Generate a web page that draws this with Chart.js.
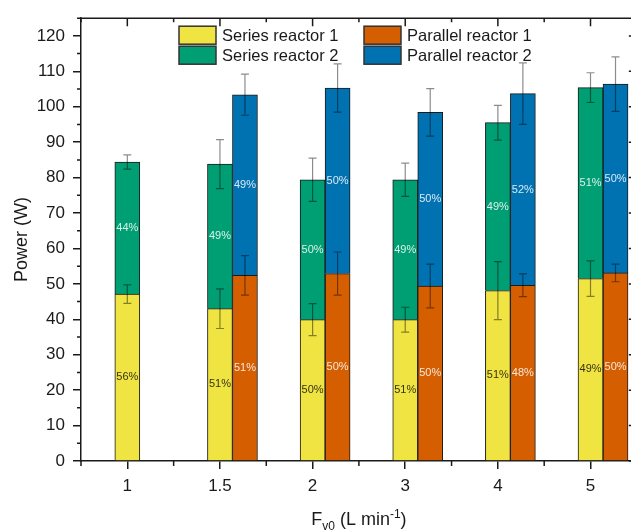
<!DOCTYPE html>
<html lang="en">
<head>
    <meta charset="UTF-8">
    <title>Power per reactor</title>
    <script src="https://cdn.jsdelivr.net/npm/chart.js"></script>
    <style>
        body { margin: 0; background: #fff; }
        canvas { display: block; }
    </style>
</head>
<body>
    <canvas id="powerChart" width="631" height="530"></canvas>
    <script>
        // flow rates (x categories)
        const flowLabels = ['1', '1.5', '2', '3', '4', '5'];

        // power of each reactor segment (W)
        const series1 = [47.1, 43.0, 39.9, 39.9, 48.1, 51.5];
        const series2 = [37.3, 40.8, 39.5, 39.5, 47.4, 53.9];
        const parallel1 = [null, 52.4, 52.9, 49.4, 49.6, 53.1];
        const parallel2 = [null, 51.0, 52.4, 49.0, 54.1, 53.3];

        // error bars (+/-)
        const series1Err = [2.6, 5.6, 4.5, 3.5, 8.2, 5.0];
        const series2Err = [2.0, 6.9, 6.1, 4.7, 4.9, 4.2];
        const parallel1Err = [null, 5.6, 6.1, 6.2, 3.2, 2.5];
        const parallel2Err = [null, 5.8, 6.8, 6.7, 8.7, 7.7];

        // share labels printed inside the bars
        const series1Pct = ['56%', '51%', '50%', '51%', '51%', '49%'];
        const series2Pct = ['44%', '49%', '50%', '49%', '49%', '51%'];
        const parallel1Pct = [null, '51%', '50%', '50%', '48%', '50%'];
        const parallel2Pct = [null, '49%', '50%', '50%', '52%', '50%'];

        const yTickValues = [0, 10, 20, 30, 40, 50, 60, 70, 80, 90, 100, 110, 120];

        const FONT = "'Liberation Sans', Arial, sans-serif";
        const INK = '#1a1a1a';

        const toPoints = vals => vals.map((v, i) => ({ x: i, y: v }));

        // bar labels + error bars
        const barExtras = {
            id: 'barExtras',
            afterDatasetsDraw(chart) {
                const ctx = chart.ctx;
                const y = chart.scales.y;
                ctx.save();
                chart.data.datasets.forEach((ds, i) => {
                    if (!ds.errors) return;
                    chart.getDatasetMeta(i).data.forEach((bar, j) => {
                        if (ds.data[j].y == null) return;
                        // percentage in middle of segment
                        ctx.font = '11px ' + FONT;
                        ctx.textAlign = 'center';
                        ctx.textBaseline = 'middle';
                        ctx.fillStyle = ds.pctColor;
                        ctx.fillText(ds.pct[j], bar.x, (bar.y + bar.base) / 2);
                    });
                });
                ctx.strokeStyle = 'rgba(0,0,0,0.45)';
                ctx.lineWidth = 1.2;
                chart.data.datasets.forEach((ds, i) => {
                    if (!ds.errors) return;
                    chart.getDatasetMeta(i).data.forEach((bar, j) => {
                        const e = ds.errors[j];
                        if (e == null || ds.data[j].y == null) return;
                        const top = y.getValueForPixel(bar.y);
                        const y1 = y.getPixelForValue(top + e);
                        const y2 = y.getPixelForValue(top - e);
                        ctx.beginPath();
                        ctx.moveTo(bar.x, y1); ctx.lineTo(bar.x, y2);
                        ctx.moveTo(bar.x - 4, y1); ctx.lineTo(bar.x + 4, y1);
                        ctx.moveTo(bar.x - 4, y2); ctx.lineTo(bar.x + 4, y2);
                        ctx.stroke();
                    });
                });
                ctx.restore();
            }
        };

        // top/right axes, minor ticks, legend and x title
        const frame = {
            id: 'frame',
            afterDraw(chart) {
                const ctx = chart.ctx;
                const { top, bottom, left } = chart.chartArea;
                const x = chart.scales.x, y = chart.scales.y;
                const rightAxis = x.getPixelForValue(5.5);
                ctx.save();
                ctx.strokeStyle = INK;
                ctx.lineWidth = 1.5;
                ctx.beginPath();
                ctx.moveTo(left, top); ctx.lineTo(rightAxis, top);
                ctx.moveTo(rightAxis, top); ctx.lineTo(rightAxis, bottom);
                // x ticks: top inward, minor below
                for (let i = -0.5; i <= 5.5; i += 0.5) {
                    const px = x.getPixelForValue(i);
                    const major = Number.isInteger(i);
                    ctx.moveTo(px, top); ctx.lineTo(px, top + (major ? 8 : 4));
                    if (!major) { ctx.moveTo(px, bottom); ctx.lineTo(px, bottom + 5); }
                }
                // y ticks: left minor, right inward
                for (let v = 0; v <= 125; v += 5) {
                    const py = y.getPixelForValue(v);
                    const major = v % 10 === 0;
                    if (!major) { ctx.moveTo(left, py); ctx.lineTo(left - 4, py); }
                    ctx.moveTo(rightAxis, py); ctx.lineTo(rightAxis - (major ? 8 : 4), py);
                }
                ctx.stroke();

                // legend, two columns
                const ds = chart.data.datasets;
                const items = [
                    [ds[1], left + 98, top + 8], [ds[3], left + 283, top + 8],
                    [ds[2], left + 98, top + 28], [ds[4], left + 283, top + 28]
                ];
                ctx.font = '16.5px ' + FONT;
                ctx.textBaseline = 'middle';
                ctx.textAlign = 'left';
                items.forEach(([d, bx, by]) => {
                    ctx.fillStyle = d.backgroundColor;
                    ctx.fillRect(bx, by, 37, 18);
                    ctx.strokeStyle = '#333';
                    ctx.lineWidth = 1.5;
                    ctx.strokeRect(bx, by, 37, 18);
                    ctx.fillStyle = INK;
                    ctx.fillText(d.label, bx + 43, by + 10);
                });

                // x axis title with sub/superscript
                const parts = [
                    ['F', 18, 0], ['v0', 12, 5], [' (L min', 18, 0], ['-1', 12, -7], [')', 18, 0]
                ];
                let w = 0;
                parts.forEach(p => { ctx.font = p[1] + 'px ' + FONT; w += ctx.measureText(p[0]).width; });
                let cx = (left + rightAxis) / 2 - w / 2;
                ctx.textBaseline = 'alphabetic';
                ctx.fillStyle = INK;
                parts.forEach(p => {
                    ctx.font = p[1] + 'px ' + FONT;
                    ctx.fillText(p[0], cx, 525 + p[2]);
                    cx += ctx.measureText(p[0]).width;
                });
                ctx.restore();
            }
        };

        const bar = (label, vals, color, errs, pct, pctColor) => ({
            label: label,
            data: toPoints(vals),
            stack: label.startsWith('Series') ? 'series' : 'parallel',
            backgroundColor: color,
            borderColor: INK,
            borderWidth: 1,
            barThickness: 25,
            errors: errs,
            pct: pct,
            pctColor: pctColor
        });

        new Chart(document.getElementById('powerChart'), {
            type: 'bar',
            data: {
                datasets: [
                    // empty stack on the left so the series bar sits on the tick
                    { label: '', data: toPoints(flowLabels.map(() => null)), stack: 'pad', barThickness: 25, backgroundColor: 'rgba(0,0,0,0)', borderWidth: 0 },
                    bar('Series reactor 1', series1, '#F0E442', series1Err, series1Pct, 'rgba(0,0,0,0.8)'),
                    bar('Series reactor 2', series2, '#009E73', series2Err, series2Pct, 'rgba(255,255,255,0.85)'),
                    bar('Parallel reactor 1', parallel1, '#D55E00', parallel1Err, parallel1Pct, 'rgba(255,255,255,0.85)'),
                    bar('Parallel reactor 2', parallel2, '#0072B2', parallel2Err, parallel2Pct, 'rgba(255,255,255,0.85)')
                ]
            },
            options: {
                responsive: false,
                animation: false,
                devicePixelRatio: 1,
                layout: { padding: { top: 14, left: 0, right: 0, bottom: 0 } },
                plugins: {
                    legend: { display: false },
                    tooltip: { enabled: false }
                },
                scales: {
                    x: {
                        type: 'linear',
                        stacked: true,
                        offset: false,
                        min: -0.5,
                        max: 5.437,
                        afterBuildTicks: s => { s.ticks = flowLabels.map((_, i) => ({ value: i })); },
                        afterFit: s => { s.height = 69; },
                        ticks: {
                            callback: v => flowLabels[v],
                            font: { family: FONT, size: 17 },
                            color: INK,
                            padding: 7,
                            maxRotation: 0
                        },
                        grid: { offset: false, drawOnChartArea: false, tickLength: 8, color: INK, lineWidth: 1.5 },
                        border: { color: INK, width: 1.5 }
                    },
                    y: {
                        stacked: true,
                        min: 0,
                        max: 125,
                        afterBuildTicks: s => { s.ticks = yTickValues.map(v => ({ value: v })); },
                        afterFit: s => { s.width = 81; },
                        ticks: {
                            font: { family: FONT, size: 17 },
                            color: INK,
                            padding: 8
                        },
                        grid: { drawOnChartArea: false, tickLength: 8, color: INK, lineWidth: 1.5 },
                        border: { color: INK, width: 1.5 },
                        title: {
                            display: true,
                            text: 'Power (W)',
                            font: { family: FONT, size: 18 },
                            color: INK,
                            padding: { top: 11, bottom: 0 }
                        }
                    }
                }
            },
            plugins: [barExtras, frame]
        });
    </script>
</body>
</html>
